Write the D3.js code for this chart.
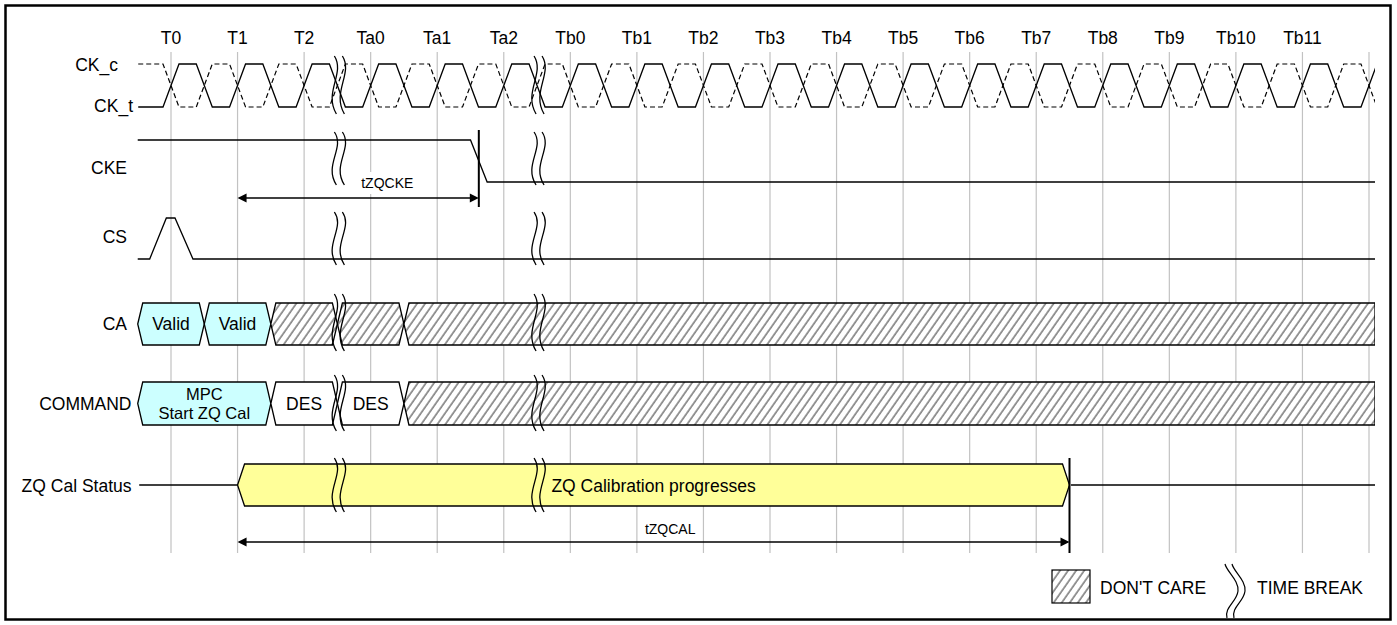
<!DOCTYPE html>
<html><head><meta charset="utf-8">
<script src="https://cdn.jsdelivr.net/npm/d3@7"></script>
<style>
body{margin:0;background:#fff}
svg{display:block}
text{font-family:"Liberation Sans",Arial,Helvetica,sans-serif;fill:#000}
</style>
</head><body>
<svg id="chart" width="1397" height="625"></svg>
<script>
// ---------------- data ----------------
const timeLabels = ["T0","T1","T2","Ta0","Ta1","Ta2","Tb0","Tb1","Tb2","Tb3","Tb4","Tb5","Tb6","Tb7","Tb8","Tb9","Tb10","Tb11",""];
const gridCycles = [0,1,2,3,4,5,6,7,8,9,10,11,12,13,14,15,16,17,18];
const clockEdges = [0,0.5,1,1.5,2,2.5,3,3.5,4,4.5,5,5.5,6,6.5,7,7.5,8,8.5,9,9.5,10,10.5,11,11.5,12,12.5,13,13.5,14,14.5,15,15.5,16,16.5,17,17.5,18];
const signalNames = ["CK_c","CK_t","CKE","CS","CA","COMMAND","ZQ Cal Status"];
const timeBreaks = [2.5, 5.5];
const ckeLevels = [[-0.5,1],[4.5,1],[4.75,0],[18.1,0]];
const csLevels = [[-0.5,0],[-0.32,0],[-0.07,1],[0.06,1],[0.33,0],[18.1,0]];
const caSegments = [
  {start:-0.5, end:0.5, kind:"valid", label:["Valid"]},
  {start:0.5, end:1.5, kind:"valid", label:["Valid"]},
  {start:1.5, end:2.5, kind:"dc", label:[]},
  {start:2.5, end:3.5, kind:"dc", label:[]},
  {start:3.5, end:18.1, kind:"dc", label:[]}
];
const commandSegments = [
  {start:-0.5, end:1.5, kind:"valid", label:["MPC","Start ZQ Cal"]},
  {start:1.5, end:2.5, kind:"plain", label:["DES"]},
  {start:2.5, end:3.5, kind:"plain", label:["DES"]},
  {start:3.5, end:18.1, kind:"dc", label:[]}
];
const zqLine = [[-0.5,1],[13.5,18.1]];
const zqStatus = {start:1, end:13.5, label:"ZQ Calibration progresses"};
const timingArrows = [
  {label:"tZQCKE", start:1, end:4.625, labelAt:3.25},
  {label:"tZQCAL", start:1, end:13.5, labelAt:7.5}
];
const legendLabels = ["DON'T CARE","TIME BREAK"];

// ---------------- layout ----------------
const svg = d3.select("#chart");
const x = d3.scaleLinear().domain([0,18]).range([171,1369]);
const xEnd = 1375;
const FS = 17.5;
const rowY = {
  clk:{hi:64, lo:107},
  cke:{hi:140, lo:182},
  cs:{hi:218, lo:259},
  ca:{top:303, bot:345},
  cmd:{top:382, bot:425},
  zq:{top:464, bot:506}
};
const labelPos = [
  {x:118, y:65}, {x:133, y:106}, {x:127, y:168}, {x:127, y:237},
  {x:127, y:324}, {x:131.5, y:403.5}, {x:131.5, y:486}
];
const breakRows = [[56,114],[132,185],[212,265],[294,351],[375,431],[458,512]];

const defs = svg.append("defs");
const pat = defs.append("pattern").attr("id","hatch").attr("patternUnits","userSpaceOnUse")
  .attr("width",6.6).attr("height",20).attr("patternTransform","rotate(35)");
pat.append("line").attr("x1",1).attr("y1",0).attr("x2",1).attr("y2",20)
  .attr("stroke","#333").attr("stroke-width",1);
defs.append("clipPath").attr("id","clipR").append("rect")
  .attr("x",0).attr("y",0).attr("width",xEnd).attr("height",625);

// border
svg.append("rect").attr("x",5.5).attr("y",5.5).attr("width",1385).attr("height",614)
  .attr("fill","none").attr("stroke","#000").attr("stroke-width",2.5);

// gridlines
svg.append("g").selectAll("line").data(gridCycles).join("line")
  .attr("x1",d=>x(d)).attr("x2",d=>x(d)).attr("y1",52).attr("y2",553)
  .attr("stroke","#c2c2c2").attr("stroke-width",1.2);

// time labels
svg.append("g").selectAll("text").data(timeLabels).join("text")
  .attr("x",(d,i)=>x(gridCycles[i])).attr("y",38).attr("text-anchor","middle")
  .attr("dominant-baseline","central").attr("font-size",FS).text(d=>d);

// signal labels
svg.append("g").selectAll("text").data(signalNames).join("text")
  .attr("x",(d,i)=>labelPos[i].x).attr("y",(d,i)=>labelPos[i].y)
  .attr("text-anchor","end").attr("dominant-baseline","central").attr("font-size",FS).text(d=>d);

const sig = svg.append("g").attr("clip-path","url(#clipR)");
const line = d3.line();
const ew = 8; // clock edge half width (px)

// clocks
function clockPts(startHigh){
  let lvl = startHigh;
  const pts = [[x(-0.5)+0.5, lvl? rowY.clk.hi: rowY.clk.lo]];
  clockEdges.forEach(e=>{
    pts.push([x(e)-ew, lvl? rowY.clk.hi: rowY.clk.lo]);
    lvl = !lvl;
    pts.push([x(e)+ew, lvl? rowY.clk.hi: rowY.clk.lo]);
  });
  pts.push([x(18.2), lvl? rowY.clk.hi: rowY.clk.lo]);
  return pts;
}
sig.append("path").attr("d",line(clockPts(true))).attr("fill","none")
  .attr("stroke","#000").attr("stroke-width",1.2).attr("stroke-dasharray","5,3");
sig.append("path").attr("d",line(clockPts(false))).attr("fill","none")
  .attr("stroke","#000").attr("stroke-width",1.3);

// CKE and CS
sig.append("path").attr("d",line(ckeLevels.map(([t,v])=>[x(t),v?rowY.cke.hi:rowY.cke.lo])))
  .attr("fill","none").attr("stroke","#000").attr("stroke-width",1.3);
sig.append("path").attr("d",line(csLevels.map(([t,v])=>[x(t),v?rowY.cs.hi:rowY.cs.lo])))
  .attr("fill","none").attr("stroke","#000").attr("stroke-width",1.3);

// buses
function busPoly(s, e, top, bot, hw, flatEnd){
  const mid = (top+bot)/2, xs = x(s), xe = Math.min(x(e), xEnd);
  const p = [[xs,mid],[xs+hw,top]];
  if(flatEnd){ p.push([xe,top],[xe,bot]); }
  else { p.push([xe-hw,top],[xe,mid],[xe-hw,bot]); }
  p.push([xs+hw,bot]);
  return "M"+p.map(q=>q.join(",")).join("L")+"Z";
}
function drawBus(segs, r){
  const g = sig.append("g");
  segs.forEach(sg=>{
    const flat = sg.end>=18.1;
    const d = busPoly(sg.start, sg.end, r.top, r.bot, 5, flat);
    g.append("path").attr("d",d).attr("fill", sg.kind==="valid"?"#ccffff":"#fff");
    if(sg.kind==="dc") g.append("path").attr("d",d).attr("fill","url(#hatch)");
    g.append("path").attr("d",d).attr("fill","none").attr("stroke","#000").attr("stroke-width",1.3);
    if(!sg.label.length) return;
    const cx = (x(sg.start)+x(sg.end))/2, cy = (r.top+r.bot)/2;
    const n = sg.label.length;
    const fs = n>1 ? 16.5 : FS, lh = 18.5;
    sg.label.forEach((s,i)=>{
      g.append("text").attr("x",cx).attr("y",cy+(i-(n-1)/2)*lh)
        .attr("text-anchor","middle").attr("dominant-baseline","central")
        .attr("font-size",fs).text(s);
    });
  });
}
drawBus(caSegments, rowY.ca);
drawBus(commandSegments, rowY.cmd);

// ZQ status
const zqMid = (rowY.zq.top+rowY.zq.bot)/2;
zqLine.forEach(([a,b])=>{
  sig.append("line").attr("x1",x(a)+1.5).attr("x2",Math.min(x(b),xEnd)).attr("y1",zqMid).attr("y2",zqMid)
    .attr("stroke","#000").attr("stroke-width",1.3);
});
sig.append("path").attr("d",(()=>{
  const xs=x(zqStatus.start), xe=x(zqStatus.end), hw=7;
  return `M${xs},${zqMid}L${xs+hw},${rowY.zq.top}L${xe-hw},${rowY.zq.top}L${xe},${zqMid}L${xe-hw},${rowY.zq.bot}L${xs+hw},${rowY.zq.bot}Z`;
})()).attr("fill","#ffff99").attr("stroke","#000").attr("stroke-width",1.3);
sig.append("text").attr("x",(x(zqStatus.start)+x(zqStatus.end))/2).attr("y",zqMid+1)
  .attr("text-anchor","middle").attr("dominant-baseline","central").attr("font-size",FS).text(zqStatus.label);

// timing arrows
const arrowY = [198, 542];
const labelY = [183, 529];
const markerSpan = [[130,207],[458,553]];
timingArrows.forEach((a,i)=>{
  const g = svg.append("g");
  const x1 = x(a.start), x2 = x(a.end), y = arrowY[i], lx = x(a.labelAt);
  g.append("line").attr("x1",x2).attr("x2",x2).attr("y1",markerSpan[i][0]).attr("y2",markerSpan[i][1])
    .attr("stroke","#000").attr("stroke-width",2);
  g.append("rect").attr("x",lx-29).attr("y",labelY[i]-11).attr("width",58).attr("height",22).attr("fill","#fff");
  g.append("text").attr("x",lx).attr("y",labelY[i])
    .attr("text-anchor","middle").attr("dominant-baseline","central").attr("font-size",14).text(a.label);
  g.append("line").attr("x1",x1+2).attr("x2",x2-2).attr("y1",y).attr("y2",y).attr("stroke","#000").attr("stroke-width",1.3);
  g.append("path").attr("d",`M${x1},${y}L${x1+9},${y-4.5}L${x1+9},${y+4.5}Z`).attr("fill","#000");
  g.append("path").attr("d",`M${x2},${y}L${x2-9},${y-4.5}L${x2-9},${y+4.5}Z`).attr("fill","#000");
});

// time breaks
function sCurve(x0, top, h){
  return `M${x0},${top} C${x0+11},${top+h*0.3} ${x0-11},${top+h*0.62} ${x0+2},${top+h}`;
}
const bg = svg.append("g").attr("fill","none").attr("stroke","#000").attr("stroke-width",1.3);
timeBreaks.forEach(tb=>{
  const cx = x(tb)+1;
  breakRows.forEach(([t,b])=>{
    bg.append("path").attr("d",sCurve(cx-4,t,b-t));
    bg.append("path").attr("d",sCurve(cx+4,t,b-t));
  });
});

// legend
const lg = svg.append("g");
lg.append("rect").attr("x",1052).attr("y",570).attr("width",38).attr("height",33).attr("fill","#fff");
lg.append("rect").attr("x",1052).attr("y",570).attr("width",38).attr("height",33).attr("fill","url(#hatch)")
  .attr("stroke","#000").attr("stroke-width",1.2);
lg.append("text").attr("x",1100).attr("y",588).attr("dominant-baseline","central").attr("font-size",FS).text(legendLabels[0]);
function legCurve(x0, top, h){
  return `M${x0},${top} C${x0+2},${top+h*0.15} ${x0+14},${top+h*0.3} ${x0+13},${top+h*0.5} C${x0+12},${top+h*0.7} ${x0-1},${top+h*0.8} ${x0+2},${top+h}`;
}
lg.append("path").attr("d",legCurve(1225,564,54)).attr("fill","none").attr("stroke","#000").attr("stroke-width",1.2);
lg.append("path").attr("d",legCurve(1232,564,54)).attr("fill","none").attr("stroke","#000").attr("stroke-width",1.2);
lg.append("text").attr("x",1257).attr("y",588).attr("dominant-baseline","central").attr("font-size",FS).text(legendLabels[1]);
</script>
</body></html>
